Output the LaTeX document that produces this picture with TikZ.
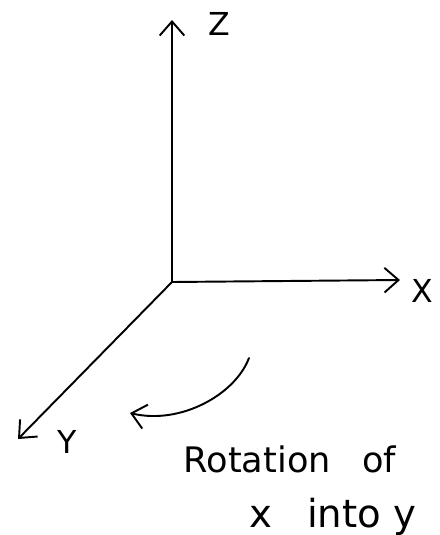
\documentclass[tikz,border=0pt]{standalone}
\usepackage{fontspec}
\newfontfamily\handfont{DejaVu Sans}
\usetikzlibrary{arrows.meta}

\begin{document}
\begin{tikzpicture}[
  x=0.02cm, y=-0.02cm,
  >={Straight Barb[length=8pt,width=14pt]},
  line cap=round, line join=round,
  axis/.style={->, line width=1.1pt},
  axislabel/.style={font=\handfont\fontsize{18}{20}\selectfont},
  caption/.style={font=\handfont\fontsize{20}{24}\selectfont}
]
  \useasboundingbox (0,0) rectangle (440,535);

  \coordinate (O) at (172,282);
  \coordinate (Ztip) at (172,20);
  \coordinate (Xtip) at (400,280);
  \coordinate (Ytip) at (18,439);

  % Axes
  \draw[axis] (O) -- (Ztip);
  \draw[axis] (O) -- (Xtip);
  \draw[axis] (O) -- (Ytip);

  % Axis labels
  \node[axislabel] (zlab) at (219,24) {Z};
  \node[axislabel] (xlab) at (422,291) {X};
  \node[axislabel] (ylab) at (67,442) {Y};

  % Rotation arrow (x into y)
  \coordinate (rotStart) at (249,358);
  \coordinate (rotEnd) at (130,413);
  \draw[axis] (rotStart) .. controls (235,395) and (180,425) .. (rotEnd);

  % Caption
  \node[caption, anchor=base] (capA) at (290,472) {Rotation\hspace{0.9em}of};
  \node[caption, anchor=base, font=\handfont\fontsize{22}{26}\selectfont]
    (capB) at (333,527) {x\hspace{0.9em}into y};
\end{tikzpicture}
\end{document}
